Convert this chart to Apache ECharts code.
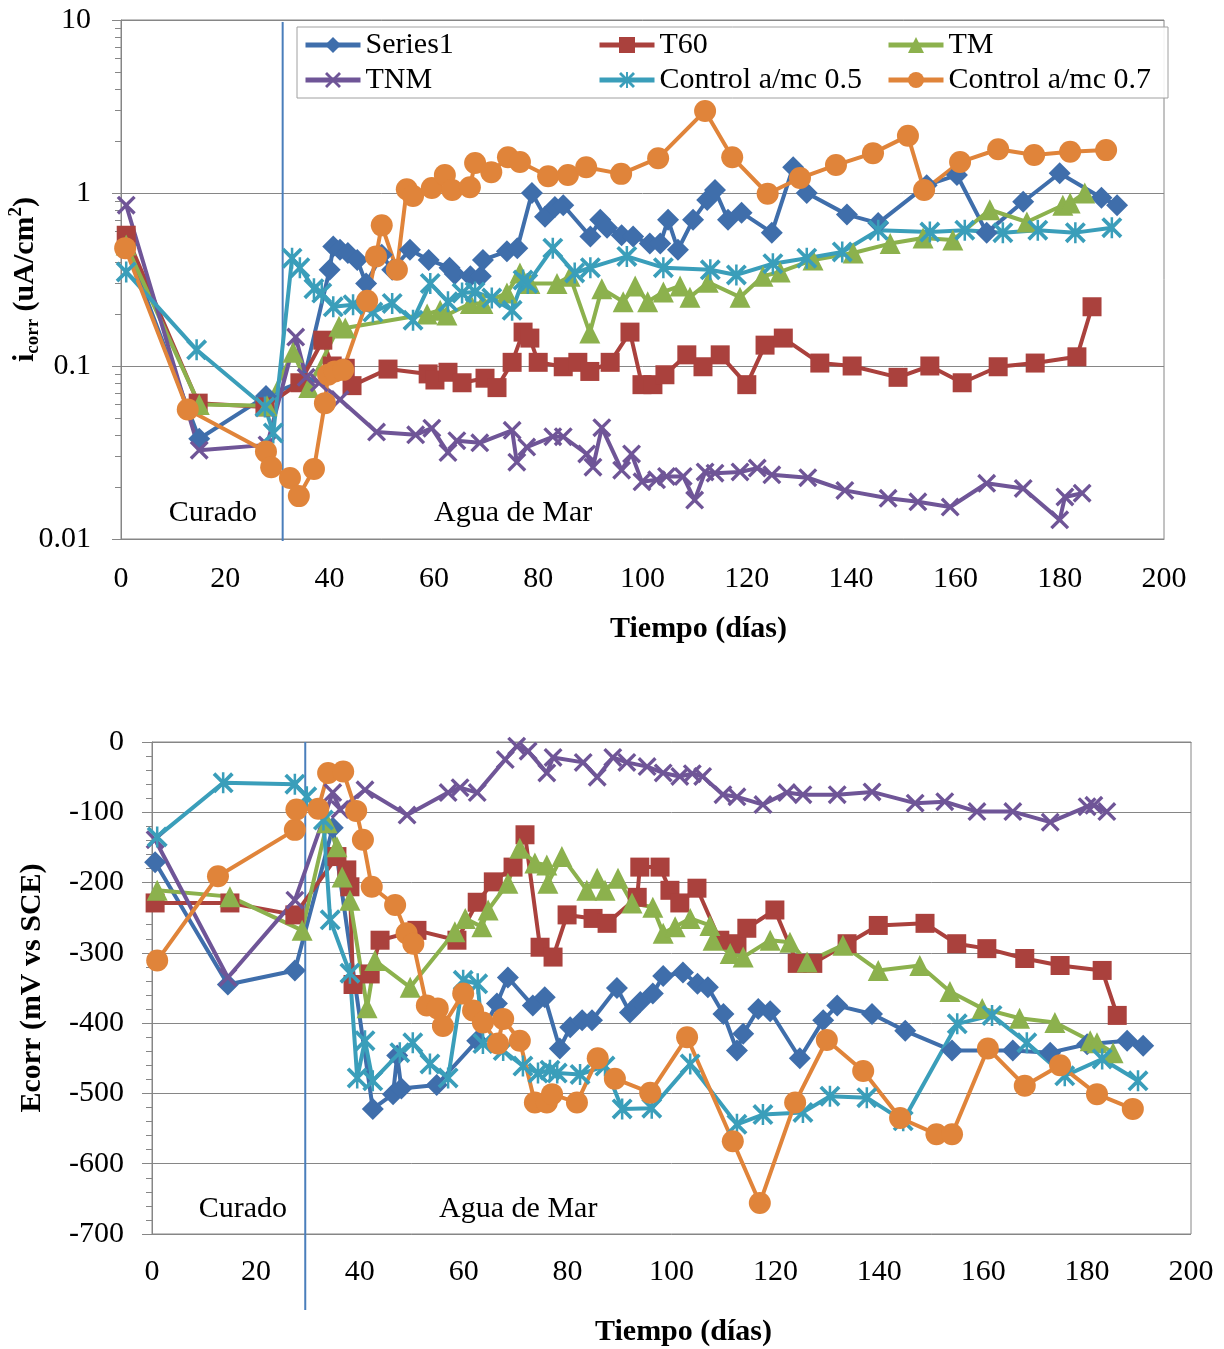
<!DOCTYPE html>
<html><head><meta charset="utf-8">
<script src="https://cdn.jsdelivr.net/npm/echarts@6/dist/echarts.min.js"></script>
<style>html,body{margin:0;padding:0;background:#fff}#c{width:1224px;height:1349px}</style>
</head><body><div id="c"></div>
<script>
// ---------- DATA ----------
const seriesNames = ['Series1', 'T60', 'TM', 'TNM', 'Control a/mc 0.5', 'Control a/mc 0.7'];
const xTickInterval = 20;
const icorrTickLabels = ['0.01', '0.1', '1', '10'];
const minorTickValuesTop = [0.02,0.03,0.04,0.05,0.06,0.07,0.08,0.09,0.2,0.3,0.4,0.5,0.6,0.7,0.8,0.9,2,3,4,5,6,7,8,9];
const curingEndTop = 31;
const curingEndBottom = 29.5;

// icorr (uA/cm2) vs day
const icorrSeries1 = [[1,0.50],[15,0.038],[27.8,0.067],[35,0.082],[40,0.36],[40.7,0.49],[42,0.47],[43.5,0.45],[45.3,0.41],[47,0.30],[50,0.44],[52,0.36],[55.4,0.47],[59,0.41],[63,0.37],[64,0.34],[67,0.33],[69,0.33],[69.4,0.41],[74,0.46],[76,0.48],[78.8,1.0],[81.3,0.73],[83.2,0.83],[84.8,0.85],[90,0.56],[91.9,0.70],[93.2,0.63],[96,0.57],[98.2,0.56],[101.4,0.51],[103.4,0.51],[104.9,0.70],[106.8,0.47],[109.7,0.70],[112.4,0.91],[113.9,1.04],[116.4,0.70],[119,0.77],[124.8,0.59],[128.9,1.41],[131.5,1.0],[139.2,0.75],[145.2,0.67],[154.5,1.11],[160.3,1.27],[166,0.59],[173,0.89],[180,1.30],[188,0.94],[191,0.85]];
const icorrT60 = [[1,0.57],[14.8,0.061],[27.6,0.058],[34.3,0.08],[38.7,0.141],[40.5,0.10],[43,0.097],[44.3,0.077],[51.2,0.096],[58.9,0.09],[60.2,0.083],[62.7,0.092],[65.4,0.080],[69.8,0.085],[72.1,0.075],[75,0.105],[77.1,0.157],[78.4,0.145],[80,0.105],[84.8,0.099],[87.6,0.105],[89.9,0.093],[93.8,0.105],[97.6,0.157],[99.9,0.078],[102,0.078],[104.3,0.089],[108.5,0.116],[111.6,0.099],[114.9,0.116],[120,0.078],[123.5,0.132],[127,0.145],[134,0.104],[140.2,0.10],[149,0.086],[155.1,0.10],[161.3,0.08],[168.2,0.099],[175.3,0.104],[183.3,0.113],[186.2,0.22]];
const icorrTM = [[1,0.50],[15,0.06],[28,0.059],[33,0.12],[36,0.075],[41.8,0.17],[43,0.166],[58.7,0.20],[61.2,0.21],[62.5,0.197],[67,0.23],[69.4,0.23],[74,0.264],[76.5,0.345],[78.4,0.30],[83.6,0.30],[86.1,0.33],[89.9,0.155],[92.2,0.28],[96.3,0.235],[98.6,0.29],[101,0.235],[104,0.268],[107.2,0.29],[109.1,0.25],[112.6,0.305],[118.7,0.25],[123.1,0.33],[126.4,0.35],[132.7,0.41],[140.4,0.45],[147.5,0.51],[153.8,0.55],[159.5,0.535],[166.6,0.80],[173.7,0.68],[180.6,0.85],[182,0.875],[184.8,1.0]];
const icorrTNM = [[1,0.85],[15,0.0326],[28,0.035],[33.5,0.147],[35.5,0.086],[38,0.08],[42,0.064],[49,0.0415],[56.5,0.040],[59.6,0.0437],[62.7,0.0316],[64.4,0.037],[68.8,0.036],[75,0.0425],[75.9,0.0278],[77.8,0.034],[82.8,0.039],[84.8,0.039],[89.3,0.031],[90.5,0.026],[92.2,0.044],[96,0.025],[97.9,0.031],[99.9,0.0214],[102.7,0.022],[104.6,0.023],[107.8,0.023],[110,0.0168],[112,0.0244],[113.9,0.024],[118.7,0.0244],[122,0.0257],[124.8,0.0235],[131.7,0.0226],[138.8,0.0191],[147.1,0.0172],[152.8,0.0164],[159,0.0153],[166,0.021],[173,0.0196],[180,0.0129],[181,0.0175],[184.3,0.0184]];
const icorrCtrl05 = [[1,0.35],[14.5,0.124],[27.6,0.058],[29.2,0.041],[32.8,0.42],[34.3,0.37],[37,0.28],[38.5,0.264],[40.7,0.22],[44.5,0.226],[48.3,0.205],[52,0.23],[56,0.184],[59.3,0.30],[62.7,0.235],[65.4,0.264],[67.9,0.268],[71.1,0.247],[75,0.21],[77.1,0.314],[78,0.30],[82.8,0.48],[87,0.345],[90,0.37],[97,0.43],[104,0.37],[113,0.36],[118,0.336],[125,0.39],[131.5,0.42],[138.3,0.456],[145.2,0.61],[155.1,0.595],[161.8,0.61],[169.1,0.59],[175.8,0.61],[183,0.59],[190,0.63]];
const icorrCtrl07 = [[0.8,0.48],[12.8,0.056],[27.8,0.032],[28.8,0.026],[32.4,0.0225],[34.1,0.0177],[37,0.0254],[39.1,0.061],[39.7,0.089],[41,0.093],[42.6,0.095],[47.2,0.238],[48.9,0.43],[50,0.65],[52.9,0.36],[54.8,1.05],[56,0.96],[59.6,1.07],[62.1,1.27],[63.5,1.04],[66.9,1.08],[67.9,1.49],[71,1.32],[74.2,1.61],[76.5,1.51],[81.9,1.25],[85.7,1.27],[89.2,1.41],[95.9,1.29],[103,1.59],[112,2.98],[117.2,1.61],[124,0.99],[130.2,1.22],[137.1,1.45],[144.2,1.70],[150.9,2.14],[154,1.04],[160.9,1.51],[168.2,1.79],[175.1,1.66],[182,1.73],[188.9,1.77]];

// Ecorr (mV vs SCE) vs day
const ecorrSeries1 = [[0.6,-171],[14.6,-345],[27.5,-325],[34.8,-122],[42.5,-522],[46.4,-501],[47.2,-446],[48,-493],[54.8,-488],[62.6,-425],[66.4,-372],[68.5,-335],[73.3,-375],[75.6,-363],[78.5,-436],[80.5,-406],[82.8,-396],[84.7,-396],[89.5,-350],[92,-385],[94,-370],[96.4,-358],[98.4,-333],[102.2,-328],[105,-344],[107,-349],[110,-387],[112.6,-439],[113.8,-415],[116.7,-380],[119,-383],[124.7,-450],[129.2,-396],[131.9,-375],[138.6,-387],[145,-411],[154,-439],[165.7,-439],[172.9,-442],[180,-430],[187.7,-425],[190.8,-432]];
const ecorrT60 = [[0.6,-229],[15,-229],[27.5,-246],[35.6,-163],[37.5,-182],[38.1,-206],[38.7,-345],[42,-330],[43.9,-282],[51,-268],[58.7,-282],[62.6,-228],[65.7,-199],[69.5,-178],[71.8,-132],[74.7,-292],[77.2,-306],[79.9,-246],[84.9,-251],[87.6,-258],[93.4,-221],[93.9,-178],[97.8,-178],[99.7,-211],[101.6,-229],[104.9,-208],[109.3,-282],[112.6,-287],[114.5,-265],[119.9,-239],[124.2,-315],[127.2,-315],[133.8,-287],[139.8,-261],[148.8,-258],[154.9,-287],[160.7,-294],[168,-308],[174.8,-318],[182.9,-325],[185.8,-389]];
const ecorrTM = [[1,-211],[15,-220],[28.9,-268],[33.7,-115],[35.6,-149],[36.6,-192],[38.1,-225],[41.4,-378],[42.9,-311],[49.7,-349],[58.3,-270],[60.3,-251],[63.5,-263],[64.7,-239],[68.5,-201],[70.8,-151],[73.7,-172],[76,-175],[76.2,-201],[78.9,-163],[83.7,-211],[85.7,-194],[87.2,-211],[89.7,-194],[92.4,-229],[96.4,-235],[98.4,-272],[100.7,-263],[103.6,-251],[107.4,-261],[108,-282],[111.3,-301],[113.8,-306],[119,-282],[122.8,-285],[126.1,-313],[133,-289],[139.8,-325],[147.8,-318],[153.6,-355],[159.8,-379],[167,-393],[173.8,-399],[180.6,-425],[181.9,-428],[185,-442]];
const ecorrTNM = [[0.6,-139],[14.6,-335],[27.5,-225],[34.8,-72],[36.2,-96],[41,-68],[49.1,-104],[57,-72],[59.3,-65],[62.6,-72],[68,-25],[70.2,-6],[72.4,-13],[76,-44],[77.2,-22],[83,-29],[85.7,-50],[88.7,-22],[91.4,-29],[95.3,-35],[98.4,-44],[101.6,-49],[104,-45],[106,-49],[109.9,-75],[112.6,-78],[117.6,-89],[122.2,-72],[125.3,-75],[131.9,-75],[138.6,-71],[146.9,-87],[152.6,-85],[158.8,-99],[165.7,-99],[172.9,-114],[180,-92],[181.3,-90],[183.8,-99]];
const ecorrCtrl05 = [[1,-135],[13.7,-58],[27.5,-60],[29.8,-78],[33,-111],[34.3,-253],[38.1,-329],[39.5,-478],[41,-425],[42.5,-482],[47.7,-442],[50.2,-428],[53.5,-458],[57,-478],[59.9,-339],[62.7,-344],[63.7,-429],[67.6,-439],[71.4,-461],[74.3,-471],[76.6,-467],[78,-471],[82.4,-473],[87.2,-461],[90.5,-522],[96.2,-521],[103.6,-458],[112.6,-544],[117.6,-530],[125.3,-527],[130.5,-504],[137.6,-506],[144.6,-539],[155,-401],[161.7,-389],[168.4,-428],[175.7,-475],[182.9,-451],[189.8,-482]];
const ecorrCtrl07 = [[1,-311],[12.7,-191],[27.5,-125],[27.8,-96],[32,-95],[33.9,-44],[36.8,-42],[39.3,-98],[40.6,-139],[42.3,-206],[46.8,-232],[49,-272],[50.3,-287],[52.9,-375],[55,-379],[56,-404],[59.9,-358],[61.8,-382],[63.7,-399],[66.6,-429],[67.6,-394],[70.8,-425],[73.7,-513],[76,-513],[77,-501],[81.8,-513],[85.8,-450],[89.1,-479],[95.9,-499],[103,-420],[111.8,-568],[117,-656],[123.8,-513],[129.9,-424],[136.9,-468],[144,-535],[151,-558],[154,-558],[160.9,-436],[168,-489],[174.8,-460],[181.9,-501],[188.8,-522]];

// ---------- STYLE ----------
const FONT = 'Liberation Serif';
const AXIS_GRAY = '#868686';
const X_PATH = 'path://M0,2.5 L2.5,0 L10,7.5 L17.5,0 L20,2.5 L12.5,10 L20,17.5 L17.5,20 L10,12.5 L2.5,20 L0,17.5 L7.5,10 Z';
const AST_PATH = 'path://M0,2.5 L2.5,0 L10,7.5 L17.5,0 L20,2.5 L12.5,10 L20,17.5 L17.5,20 L10,12.5 L2.5,20 L0,17.5 L7.5,10 Z M8.8,0 L11.2,0 L11.2,20 L8.8,20 Z';
const styles = {
  'Series1': {color: '#3F6EAB', symbol: 'diamond', size: 22},
  'T60': {color: '#AA413D', symbol: 'rect', size: 19},
  'TM': {color: '#8CB14D', symbol: 'triangle', size: 21},
  'TNM': {color: '#6F5597', symbol: X_PATH, size: 19},
  'Control a/mc 0.5': {color: '#3A9EBA', symbol: AST_PATH, size: 21},
  'Control a/mc 0.7': {color: '#E0843A', symbol: 'circle', size: 22}
};
const topData = [icorrSeries1, icorrT60, icorrTM, icorrTNM, icorrCtrl05, icorrCtrl07];
const botData = [ecorrSeries1, ecorrT60, ecorrTM, ecorrTNM, ecorrCtrl05, ecorrCtrl07];

function mkSeries(name, data, xi, yi) {
  const s = styles[name];
  return {
    name, type: 'line', data, xAxisIndex: xi, yAxisIndex: yi,
    symbol: s.symbol, symbolSize: s.size, showAllSymbol: true,
    lineStyle: {color: s.color, width: 4},
    itemStyle: {color: s.color},
    emphasis: {disabled: true}, animation: false
  };
}

const series = [];
seriesNames.forEach((n, i) => series.push(mkSeries(n, topData[i], 0, 0)));
seriesNames.forEach((n, i) => series.push(mkSeries(n, botData[i], 1, 2)));

const labelStyle = {fontFamily: FONT, fontSize: 30, color: '#000'};
const nameStyle = {fontFamily: FONT, fontSize: 30, fontWeight: 'bold', color: '#000'};

function xAxisCfg(gi, gap, padLeft, margin) {
  return {
    gridIndex: gi, type: 'value', min: 0, max: 200, interval: xTickInterval,
    axisLine: {show: true, lineStyle: {color: AXIS_GRAY}},
    axisTick: {show: false},
    axisLabel: Object.assign({margin}, labelStyle),
    splitLine: {show: false},
    name: 'Tiempo (días)', nameLocation: 'middle', nameGap: gap, nameMoveOverlap: false,
    nameTextStyle: Object.assign({padding: [0, 0, 0, padLeft]}, nameStyle)
  };
}

const legendCommon = {
  orient: 'vertical', top: 30, padding: 0, itemWidth: 55, itemHeight: 20, itemGap: 5,
  lineStyle: {width: 5},
  textStyle: {fontFamily: FONT, fontSize: 30, color: '#000', lineHeight: 30},
  selectedMode: false
};

const option = {
  backgroundColor: '#fff',
  animation: false,
  grid: [
    {left: 121, top: 20, width: 1043, height: 519, show: true, borderColor: AXIS_GRAY, borderWidth: 1, containLabel: false, outerBoundsMode: 'none'},
    {left: 152, top: 742, width: 1039, height: 492, show: true, borderColor: AXIS_GRAY, borderWidth: 1, containLabel: false, outerBoundsMode: 'none'}
  ],
  legend: [
    Object.assign({left: 303, data: [seriesNames[0], seriesNames[3]]}, legendCommon),
    Object.assign({left: 597, data: [seriesNames[1], seriesNames[4]]}, legendCommon),
    Object.assign({left: 886, data: [seriesNames[2], seriesNames[5]]}, legendCommon)
  ],
  xAxis: [xAxisCfg(0, 75, 112, 25), xAxisCfg(1, 83, 24, 23)],
  yAxis: [
    {
      gridIndex: 0, type: 'log', logBase: 10, min: 0.01, max: 10, position: 'left',
      axisLine: {show: true, lineStyle: {color: AXIS_GRAY}},
      axisTick: {show: true, length: 9, lineStyle: {color: AXIS_GRAY}},
      axisLabel: Object.assign({margin: 30, formatter: v => icorrTickLabels.find(t => Math.abs(parseFloat(t) - v) < 1e-9 * Math.max(1, v)) || ''}, labelStyle),
      splitLine: {show: true, lineStyle: {color: AXIS_GRAY, width: 1}},
      name: '{b|i}{s|corr}{b| (uA/cm}{p|2}{b|)}', nameLocation: 'middle', nameGap: 78, nameRotate: 90, nameMoveOverlap: false,
      nameTextStyle: {
        rich: {
          b: {fontFamily: FONT, fontSize: 30, fontWeight: 'bold', color: '#000', lineHeight: 36, verticalAlign: 'middle'},
          s: {fontFamily: FONT, fontSize: 19, fontWeight: 'bold', color: '#000', lineHeight: 36, verticalAlign: 'bottom'},
          p: {fontFamily: FONT, fontSize: 19, fontWeight: 'bold', color: '#000', lineHeight: 36, verticalAlign: 'top'}
        }
      }
    },
    {
      gridIndex: 0, type: 'log', logBase: 10, min: 0.01, max: 10, position: 'left', offset: 0,
      axisLine: {show: false},
      axisTick: {show: true, length: 6, customValues: minorTickValuesTop, lineStyle: {color: AXIS_GRAY}},
      axisLabel: {show: false},
      splitLine: {show: false}
    },
    {
      gridIndex: 1, type: 'value', min: -700, max: 0, interval: 100, position: 'left',
      axisLine: {show: true, lineStyle: {color: AXIS_GRAY}},
      axisTick: {show: true, length: 10, lineStyle: {color: AXIS_GRAY}},
      minorTick: {show: true, splitNumber: 5, length: 6, lineStyle: {color: AXIS_GRAY}},
      axisLabel: Object.assign({margin: 28}, labelStyle),
      splitLine: {show: true, lineStyle: {color: AXIS_GRAY, width: 1}},
      name: 'Ecorr (mV vs SCE)', nameLocation: 'middle', nameGap: 105, nameRotate: 90, nameMoveOverlap: false,
      nameTextStyle: nameStyle
    }
  ],
  series
};

const chart = echarts.init(document.getElementById('c'), null, {renderer: 'canvas'});
chart.setOption(option);

// annotations positioned through the library's scales
const px = (g, pt) => chart.convertToPixel({gridIndex: g}, pt);
const lt0 = px(0, [curingEndTop, 10]);
const lt1 = px(0, [curingEndTop, 0.01]);
const lb0 = px(1, [curingEndBottom, 0]);
const lb1 = px(1, [curingEndBottom, -808]);
const cT = px(0, [17.6, 0.0141]);
const aT = px(0, [75.2, 0.0141]);
const cB = px(1, [17.5, -664]);
const aB = px(1, [70.5, -664]);
const txt = (p, s) => ({type: 'text', x: p[0], y: p[1], style: {text: s, fontFamily: FONT, fontSize: 30, fill: '#000', align: 'center', verticalAlign: 'middle'}, z: 10});
chart.setOption({
  graphic: [
    {type: 'line', shape: {x1: lt0[0], y1: lt0[1] + 2, x2: lt1[0], y2: lt1[1] + 2}, style: {stroke: '#4A7EBB', lineWidth: 2}, z: 1},
    {type: 'line', shape: {x1: lb0[0], y1: lb0[1], x2: lb1[0], y2: lb1[1]}, style: {stroke: '#4A7EBB', lineWidth: 2}, z: 1},
    txt(cT, 'Curado'), txt(aT, 'Agua de Mar'), txt(cB, 'Curado'), txt(aB, 'Agua de Mar'),
    {type: 'rect', shape: {x: 297, y: 27, width: 871, height: 71}, style: {fill: 'rgba(255,255,255,0.9)', stroke: '#A0A0A0', lineWidth: 1}, z: 0, zlevel: 0}
  ]
});
</script>
</body></html>
